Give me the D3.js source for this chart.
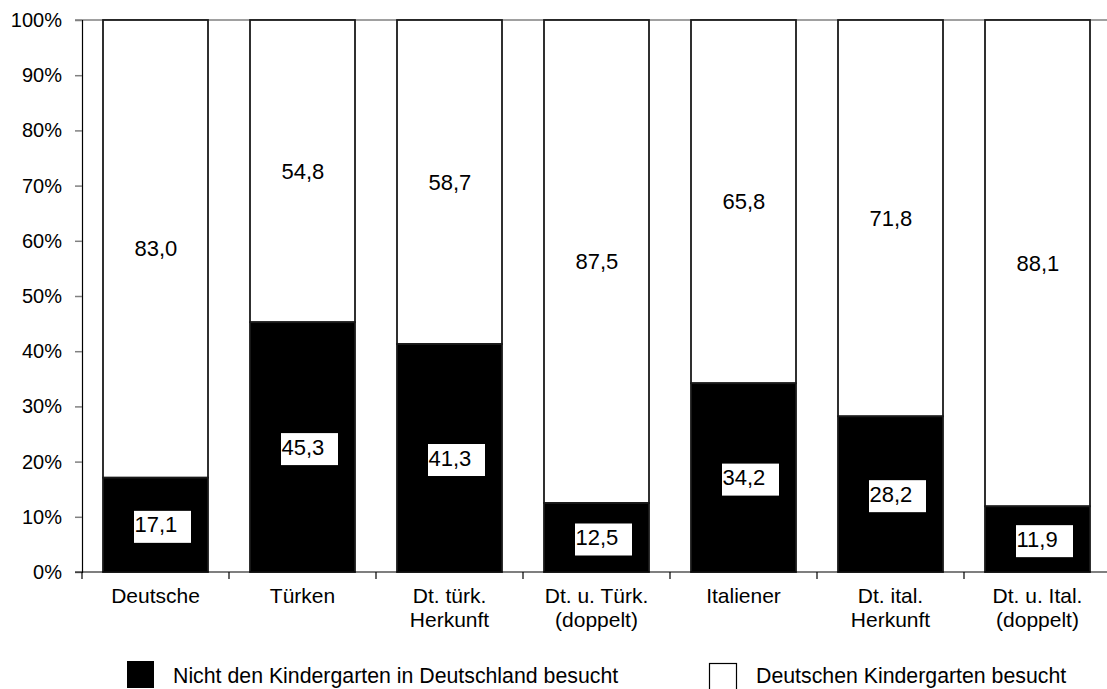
<!DOCTYPE html>
<html>
<head>
<meta charset="utf-8">
<script src="https://cdn.jsdelivr.net/npm/d3@7"></script>
<style>
html,body{margin:0;padding:0;background:#fff;}
svg{display:block;font-family:"Liberation Sans", Arial, sans-serif;}
</style>
</head>
<body>
<svg id="chart" width="1107" height="689"></svg>
<script>
const categories = [
  ["Deutsche"],
  ["Türken"],
  ["Dt. türk.", "Herkunft"],
  ["Dt. u. Türk.", "(doppelt)"],
  ["Italiener"],
  ["Dt. ital.", "Herkunft"],
  ["Dt. u. Ital.", "(doppelt)"]
];
const notVisited = [17.1, 45.3, 41.3, 12.5, 34.2, 28.2, 11.9];
const visited    = [83.0, 54.8, 58.7, 87.5, 65.8, 71.8, 88.1];
const seriesNames = ["Nicht den Kindergarten in Deutschland besucht", "Deutschen Kindergarten besucht"];
const yTicks = [0, 10, 20, 30, 40, 50, 60, 70, 80, 90, 100];

const svg = d3.select("#chart");
const plotLeft = 82, plotRight = 1111, plotTop = 20, plotBottom = 572;
const keys = categories.map((c, i) => i);

const x = d3.scaleBand().domain(keys).range([plotLeft, plotRight])
  .paddingInner(42/147).paddingOuter(21/147);
const y = d3.scaleLinear().domain([0, 100]).range([plotBottom, plotTop]);

const fmt = v => v.toFixed(1).replace(".", ",");

// top grey line at 100%
svg.append("line").attr("x1", 75).attr("x2", 1107).attr("y1", y(100)).attr("y2", y(100))
  .attr("stroke", "#808080").attr("stroke-width", 1.5);

// Y axis
const yAxis = d3.axisLeft(y).tickValues(yTicks).tickFormat(d => d + "%").tickSize(7).tickPadding(13);
const gy = svg.append("g").attr("transform", `translate(${plotLeft},0)`).call(yAxis);
gy.select(".domain").attr("stroke", "#000").attr("stroke-width", 1.2);
gy.selectAll(".tick line").attr("stroke", "#808080").attr("stroke-width", 1.5);
gy.selectAll(".tick text").attr("font-size", 20).attr("fill", "#000")
  .attr("font-family", "Liberation Sans, Arial, sans-serif");

// bars
const data = keys.map(i => {
  const s = notVisited[i] + visited[i];
  return {i, a: notVisited[i] / s * 100, b: visited[i] / s * 100, va: notVisited[i], vb: visited[i]};
});

const bars = svg.append("g");
data.forEach(d => {
  const bx = x(d.i), bw = x.bandwidth();
  bars.append("rect").attr("x", bx).attr("width", bw)
    .attr("y", y(d.a + d.b)).attr("height", y(d.a) - y(d.a + d.b))
    .attr("fill", "#fff").attr("stroke", "#1a1a1a").attr("stroke-width", 1.8);
  bars.append("rect").attr("x", bx).attr("width", bw)
    .attr("y", y(d.a)).attr("height", y(0) - y(d.a))
    .attr("fill", "#000").attr("stroke", "#1a1a1a").attr("stroke-width", 1.8);
});

// X axis
const gx = svg.append("g").attr("transform", `translate(0,${plotBottom})`);
gx.append("line").attr("x1", 75).attr("x2", 1107).attr("y1", 0).attr("y2", 0)
  .attr("stroke", "#000").attr("stroke-width", 1.2);
d3.range(categories.length + 1).forEach(k => {
  const tx = plotLeft + k * x.step();
  gx.append("line").attr("x1", tx).attr("x2", tx).attr("y1", 0).attr("y2", 7)
    .attr("stroke", "#000").attr("stroke-width", 1.2);
});
categories.forEach((lines, i) => {
  const cx = x(i) + x.bandwidth() / 2;
  const t = gx.append("text").attr("text-anchor", "middle").attr("font-size", 21).attr("fill", "#000");
  lines.forEach((ln, j) => {
    t.append("tspan").attr("x", cx).attr("y", 31 + j * 24).text(ln);
  });
});

// value labels
const labels = svg.append("g").attr("font-size", 22).attr("fill", "#000");
data.forEach(d => {
  const cx = x(d.i) + x.bandwidth() / 2;
  const midA = (y(0) + y(d.a)) / 2;
  const midB = (y(d.a) + y(d.a + d.b)) / 2;
  labels.append("rect").attr("x", cx - 21.5).attr("y", midA - 14).attr("width", 57).attr("height", 32)
    .attr("fill", "#fff");
  labels.append("text").attr("x", cx - 21).attr("y", midA + 7.5).text(fmt(d.va));
  labels.append("text").attr("x", cx - 21).attr("y", midB + 7.5).text(fmt(d.vb));
});

// legend
const lg = svg.append("g").attr("font-size", 21.3).attr("fill", "#000");
lg.append("rect").attr("x", 127).attr("y", 661).attr("width", 27).attr("height", 27).attr("fill", "#000");
lg.append("text").attr("x", 173).attr("y", 683).text(seriesNames[0]);
lg.append("rect").attr("x", 709.5).attr("y", 663.5).attr("width", 27).attr("height", 27)
  .attr("fill", "#fff").attr("stroke", "#000").attr("stroke-width", 1.2);
lg.append("text").attr("x", 756).attr("y", 683).text(seriesNames[1]);
</script>
</body>
</html>
